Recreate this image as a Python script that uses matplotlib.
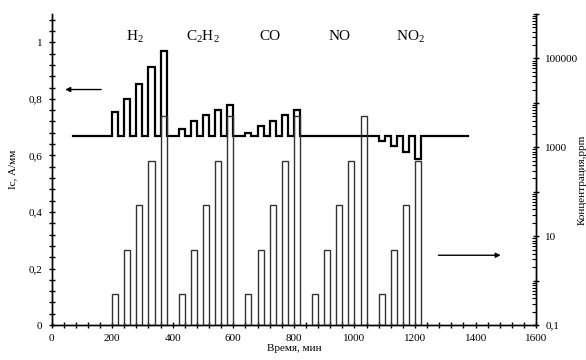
import numpy as np
import matplotlib
matplotlib.use("Agg")
import matplotlib.pyplot as plt
from matplotlib.ticker import FixedLocator, MultipleLocator, FuncFormatter, LogLocator, NullFormatter

# ---------------- data ----------------
pulse_start = [200, 240, 280, 320, 360,
               420, 460, 500, 540, 580,
               640, 680, 720, 760, 800,
               860, 900, 940, 980, 1020,
               1080, 1120, 1160, 1200]
pulse_width = 20
conc_ppm = [0.5, 5, 50, 500, 5000,
            0.5, 5, 50, 500, 5000,
            0.5, 5, 50, 500, 5000,
            0.5, 5, 50, 500, 5000,
            0.5, 5, 50, 500]
response = [0.753, 0.800, 0.854, 0.913, 0.968,
            0.695, 0.720, 0.742, 0.762, 0.780,
            0.680, 0.703, 0.720, 0.742, 0.762,
            0.670, 0.670, 0.670, 0.670, 0.670,
            0.652, 0.634, 0.612, 0.589]
baseline = 0.67
line_start, line_end = 70, 1375
gas_labels = ["H$_2$", "C$_2$H$_2$", "CO", "NO", "NO$_2$"]
gas_label_x = [275, 500, 722, 952, 1185]

# ---------------- style ----------------
plt.rcParams['font.family'] = ['Liberation Serif', 'DejaVu Serif']
plt.rcParams['mathtext.fontset'] = 'custom'
plt.rcParams['mathtext.rm'] = 'Liberation Serif'
plt.rcParams['mathtext.it'] = 'Liberation Serif'

fig = plt.figure(figsize=(5.86, 3.60), dpi=100)
ax = fig.add_axes([0.088, 0.097, 0.827, 0.864])
ax2 = ax.twinx()

# step line built from pulses
xs = [line_start]
ys = [baseline]
for s, r in zip(pulse_start, response):
    xs += [s, s, s + pulse_width, s + pulse_width]
    ys += [baseline, r, r, baseline]
xs.append(line_end)
ys.append(baseline)
ax.plot(xs, ys, color='black', lw=1.6, solid_joinstyle='miter', zorder=3)

# concentration bars (right log axis)
ax2.set_yscale('log')
ax2.set_ylim(0.1, 1e6)
ax2.bar(pulse_start, np.array(conc_ppm) - 0.1, bottom=0.1, width=pulse_width,
        align='edge', fill=False, edgecolor='#333333', lw=1.0, zorder=2)

ax.set_xlim(0, 1600)
ax.set_ylim(0, 1.1)

# ticks left
ax.yaxis.set_major_locator(FixedLocator([0, 0.2, 0.4, 0.6, 0.8, 1.0]))
ax.yaxis.set_minor_locator(MultipleLocator(0.04))
ax.yaxis.set_major_formatter(FuncFormatter(lambda v, p: ('%g' % round(v, 2)).replace('.', ',')))
ax.xaxis.set_major_locator(MultipleLocator(200))
ax.xaxis.set_minor_locator(MultipleLocator(40))
ax.tick_params(axis='both', which='major', direction='inout', length=5, width=1, labelsize=8, pad=4)
ax.tick_params(axis='both', which='minor', direction='inout', length=4, width=1)
ax.tick_params(axis='x', pad=4)

# ticks right
ax2.yaxis.set_major_locator(LogLocator(base=10, numticks=20))
ax2.yaxis.set_minor_locator(LogLocator(base=10, subs=np.arange(2, 10), numticks=20))
labeled = {0.1: '0,1', 10: '10', 1000: '1000', 100000: '100000'}
def rfmt(v, p):
    for k, s in labeled.items():
        if abs(np.log10(v) - np.log10(k)) < 1e-6:
            return s
    return ''
ax2.yaxis.set_major_formatter(FuncFormatter(rfmt))
ax2.yaxis.set_minor_formatter(NullFormatter())
ax2.tick_params(axis='y', which='major', direction='inout', length=5, width=1, labelsize=8, pad=4)
ax2.tick_params(axis='y', which='minor', direction='in', length=3, width=0.8)

for a in (ax, ax2):
    a.spines['top'].set_visible(False)
    for sp in ('left', 'right', 'bottom'):
        a.spines[sp].set_linewidth(1.0)

# labels
ax.set_xlabel('Время, мин', fontsize=8, labelpad=1)
ax.set_ylabel('Ic, А/мм', fontsize=8, labelpad=8)
fig.text(0.993, 0.5, 'Концентрация,ppm', rotation=90, fontsize=8, ha='center', va='center')

for lab, gx in zip(gas_labels, gas_label_x):
    ax.text(gx, 1.02, lab, fontsize=11, ha='center', va='center')

# arrows
ax.annotate('', xy=(36, 0.833), xytext=(173, 0.833),
            arrowprops=dict(arrowstyle='-|>', color='black', lw=1.0, mutation_scale=7))
ax.annotate('', xy=(1492, 0.247), xytext=(1268, 0.247),
            arrowprops=dict(arrowstyle='-|>', color='black', lw=1.0, mutation_scale=7))

fig.savefig('out.png', dpi=100)
